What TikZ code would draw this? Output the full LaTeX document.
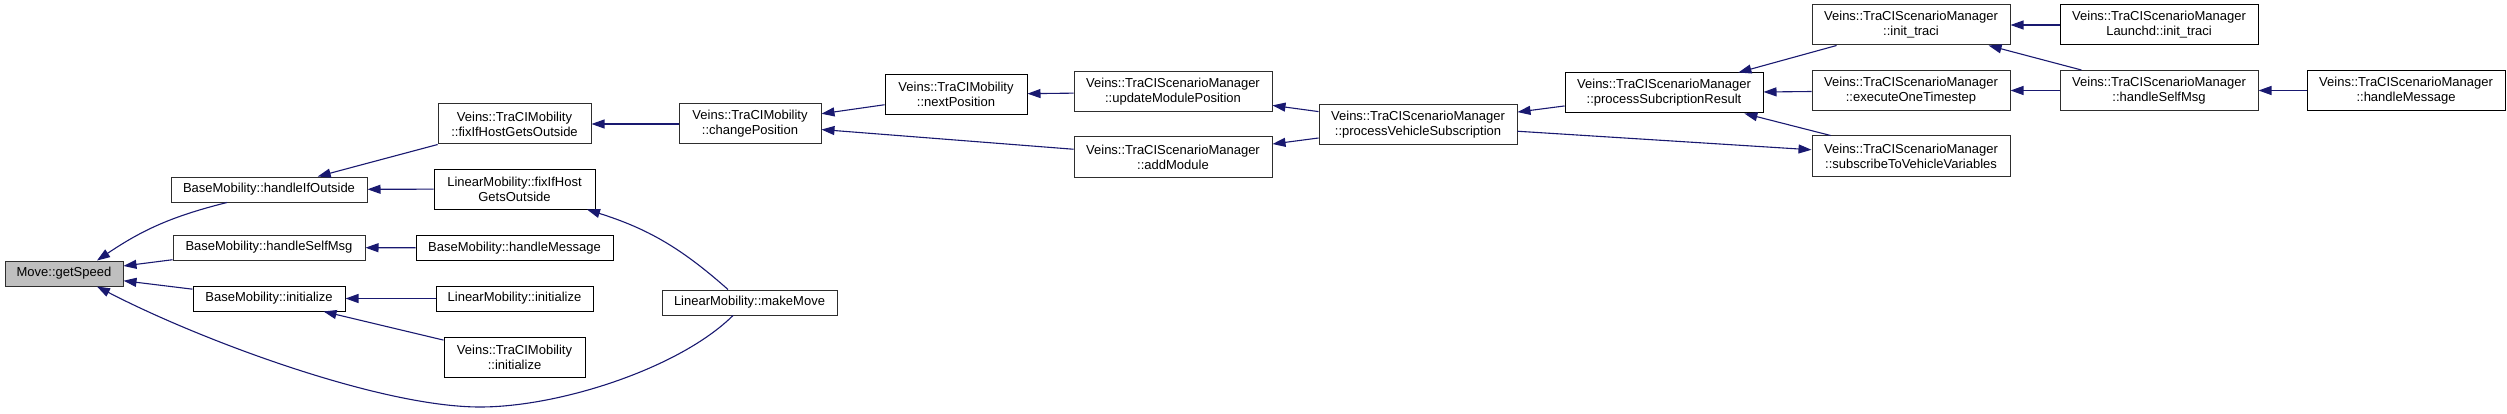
\documentclass[tikz,border=0pt]{standalone}
\usepackage{fontspec}
\setmainfont{Liberation Sans}
\usepackage{tikz}
\usetikzlibrary{arrows.meta,positioning}
\definecolor{dxblue}{RGB}{25,25,112}
\definecolor{dxgrey}{RGB}{191,191,191}

\begin{document}
\begin{tikzpicture}[
  x=1pt, y=1pt,
  fn/.style={draw, line width=1pt, fill=white, inner sep=0pt, align=center, minimum width=#1, minimum height=25pt, font=\fontsize{13}{15}\selectfont},
  fntwo/.style={fn=#1, minimum height=40pt},
  undoc/.style={draw=black!82},
  call/.style={-{Triangle[length=13pt,width=9pt]}, dxblue, line width=1.1pt}
]
  \useasboundingbox (0,0) rectangle (2507,413);

  \node[fn=118pt, undoc, fill=dxgrey] (getspeed) at (64,139.5) {Move::getSpeed};
  \node[fn=196pt, undoc] (hio) at (269,223.5) {BaseMobility::handleIfOutside};
  \node[fn=192pt, undoc] (hsm) at (269,165.5) {BaseMobility::handleSelfMsg};
  \node[fn=152pt] (binit) at (269,114.5) {BaseMobility::initialize};
  \node[fntwo=153pt, undoc] (tmfix) at (514.5,289) {Veins::TraCIMobility\\::fixIfHostGetsOutside};
  \node[fntwo=161pt] (lmfix) at (514.5,224) {LinearMobility::fixIfHost\\GetsOutside};
  \node[fn=197pt] (bhm) at (514.5,165) {BaseMobility::handleMessage};
  \node[fn=157pt] (lminit) at (514.5,114.5) {LinearMobility::initialize};
  \node[fntwo=141pt] (tminit) at (514.5,56) {Veins::TraCIMobility\\::initialize};
  \node[fntwo=142pt, undoc, right=87pt of tmfix] (chpos) {Veins::TraCIMobility\\::changePosition};
  \node[fn=175pt, undoc] (makemove) at (749.5,110.5) {LinearMobility::makeMove};
  \node[fntwo=142pt] (nextpos) at (956,318.5) {Veins::TraCIMobility\\::nextPosition};
  \node[fntwo=198pt, undoc] (updpos) at (1173,321) {Veins::TraCIScenarioManager\\::updateModulePosition};
  \node[fntwo=198pt, undoc] (addmod) at (1173,256) {Veins::TraCIScenarioManager\\::addModule};
  \node[fntwo=198pt, undoc] (pvs) at (1418,288) {Veins::TraCIScenarioManager\\::processVehicleSubscription};
  \node[fntwo=198pt] (psr) at (1664,320) {Veins::TraCIScenarioManager\\::processSubcriptionResult};
  \node[fntwo=198pt, undoc] (init) at (1911,388) {Veins::TraCIScenarioManager\\::init\_traci};
  \node[fntwo=198pt, undoc] (eot) at (1911,322.5) {Veins::TraCIScenarioManager\\::executeOneTimestep};
  \node[fntwo=198pt, undoc] (sub) at (1911,257) {Veins::TraCIScenarioManager\\::subscribeToVehicleVariables};
  \node[fntwo=198pt, right=49pt of init] (launchd) {Veins::TraCIScenarioManager\\Launchd::init\_traci};
  \node[fntwo=198pt, undoc, right=49pt of eot] (smhsm) {Veins::TraCIScenarioManager\\::handleSelfMsg};
  \node[fntwo=198pt, right=48pt of smhsm] (smhm) {Veins::TraCIScenarioManager\\::handleMessage};

  \draw[call] ([xshift=-42pt]hio.south) to[bend right=10] ([xshift=33pt]getspeed.north);
  \draw[call] (hsm) -- (getspeed);
  \draw[call] (binit) -- (getspeed);
  \draw[call] ([xshift=-16.5pt]makemove.south) .. controls (680,45) and (560,6) .. (480,6) .. controls (380,6) and (200,73) .. ([xshift=33pt]getspeed.south);
  \draw[call] (tmfix) -- (hio);
  \draw[call] (lmfix) -- (hio);
  \draw[call] (bhm) -- (hsm);
  \draw[call] (lminit) -- (binit);
  \draw[call] (tminit) -- (binit);
  \draw[call] ([xshift=-21.5pt]makemove.north) to[bend right=12] ([xshift=72.5pt]lmfix.south);
  \draw[call] (chpos) -- (tmfix);
  \draw[call] (nextpos) -- (chpos);
  \draw[call] (addmod) -- (chpos);
  \draw[call] (updpos) -- (nextpos);
  \draw[call] (pvs) -- (updpos);
  \draw[call] (pvs) -- (addmod);
  \draw[call] (psr) -- (pvs);
  \draw[call] (pvs) -- (sub);
  \draw[call] (init) -- (psr);
  \draw[call] (eot) -- (psr);
  \draw[call] (sub) -- (psr);
  \draw[call] (launchd) -- (init);
  \draw[call] (smhsm) -- (init);
  \draw[call] (smhsm) -- (eot);
  \draw[call] (smhm) -- (smhsm);
\end{tikzpicture}
\end{document}
